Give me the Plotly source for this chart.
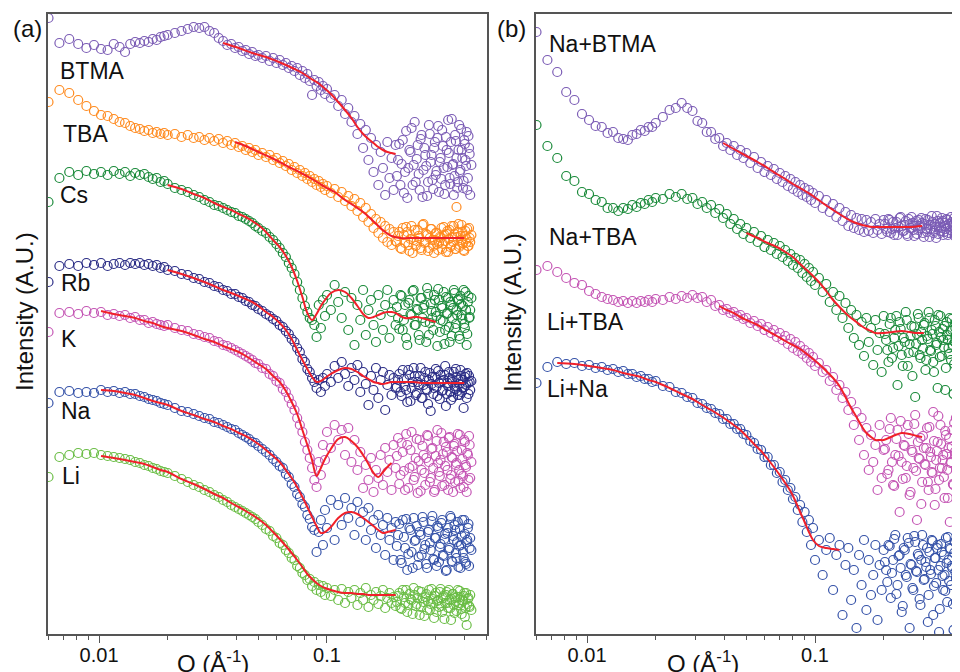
import plotly.graph_objects as go

# ---------------- data (Q in 1/Å, intensity in arbitrary stacked units) ----------------
q_grid = [
    0.0060, 0.0067, 0.0074, 0.0081, 0.0088, 0.0095, 0.0102, 0.0109, 0.0116, 0.0123, 0.0130,
    0.0137, 0.0144, 0.0151, 0.0158, 0.0165, 0.0172, 0.0179, 0.0186, 0.0193, 0.0200,
    0.0215, 0.0230, 0.0245, 0.0260, 0.0275, 0.0290, 0.0305, 0.0320, 0.0335, 0.0350,
    0.0365, 0.0380, 0.0395, 0.0410, 0.0425, 0.0440, 0.0455, 0.0470, 0.0485, 0.0500,
    0.052, 0.054, 0.056, 0.058, 0.060, 0.062, 0.064, 0.066, 0.068, 0.070, 0.072, 0.074, 0.076,
    0.078, 0.080, 0.082, 0.084, 0.086, 0.088, 0.090, 0.092, 0.094, 0.096, 0.098, 0.100,
    0.104, 0.108, 0.112, 0.116, 0.120, 0.124, 0.128, 0.132, 0.136, 0.140, 0.144, 0.148, 0.152,
    0.156, 0.160, 0.164, 0.168, 0.172, 0.176, 0.180, 0.184, 0.188, 0.192, 0.196, 0.200,
    0.205, 0.210, 0.215, 0.220, 0.225, 0.230, 0.235, 0.240, 0.245, 0.250, 0.255, 0.260,
    0.265, 0.270, 0.275, 0.280, 0.285, 0.290, 0.295, 0.300, 0.305, 0.310, 0.315, 0.320,
    0.325, 0.330, 0.335, 0.340, 0.345, 0.350, 0.355, 0.360, 0.365, 0.370, 0.375, 0.380,
    0.385, 0.390, 0.395, 0.400, 0.405, 0.410, 0.415, 0.420, 0.425, 0.430,
]
# additional high-Q samples (between the points above)
q_hi = [
    0.2025, 0.2075, 0.2125, 0.2175, 0.2225, 0.2275, 0.2325, 0.2375, 0.2425, 0.2475,
    0.2525, 0.2575, 0.2625, 0.2675, 0.2725, 0.2775, 0.2825, 0.2875, 0.2925, 0.2975,
    0.3025, 0.3075, 0.3125, 0.3175, 0.3225, 0.3275, 0.3325, 0.3375, 0.3425, 0.3475,
    0.3525, 0.3575, 0.3625, 0.3675, 0.3725, 0.3775, 0.3825, 0.3875, 0.3925, 0.3975,
    0.4025, 0.4075, 0.4125, 0.4175, 0.4225,
]

# panel (a)
i_btma = [
    616, 591, 595, 590, 586, 589, 585, 584, 590, 587, 582, 590, 592, 591, 593, 592, 595, 594, 597, 598, 599,
    601, 603, 605, 607, 606, 607, 603, 601, 596, 593, 589, 590, 586, 587, 583, 584, 580, 582, 578, 579,
    576, 578, 573, 576, 571, 574, 569, 571, 566, 568, 563, 566, 559, 563, 556, 560, 553, 539, 554, 548, 552, 544, 548, 540, 545,
    536, 539, 528, 534, 520, 526, 512, 518, 500, 510, 486, 504, 474, 496, 462, 489, 449, 482, 466, 439, 492, 456, 476, 444, 489,
    474, 449, 494, 462, 436, 484, 506, 469, 452, 489, 444, 499, 464, 479, 438, 509, 472, 454, 486, 459, 496, 442, 476,
    504, 466, 449, 484, 514, 456, 492, 469, 439, 499, 476, 452, 509, 464, 484, 446, 494, 474, 502, 456, 486, 439, 469,
]
i_btma_hi = [458, 490, 470, 441, 503, 466, 482, 449, 512, 475, 460, 495, 437, 486, 468, 452, 500, 479, 445, 492, 463,
             508, 472, 455, 488, 440, 497, 467, 481, 450, 515, 470, 458, 493, 446, 484, 462, 505, 476, 453, 490, 468,
             444, 498, 480]
i_tba = [
    532, 544, 541, 534, 528, 523, 519, 518, 515, 512, 511, 508, 506, 505, 503, 504, 501, 502, 500, 501, 499,
    500, 497, 499, 496, 497, 494, 496, 493, 495, 491, 493, 489, 491, 487, 488, 484, 486, 482, 484, 479,
    481, 477, 479, 474, 476, 471, 473, 468, 470, 464, 467, 461, 464, 458, 461, 455, 458, 452, 455, 449, 453, 447, 450, 444, 448,
    441, 445, 437, 442, 433, 438, 428, 435, 423, 431, 417, 426, 412, 420, 406, 415, 401, 412, 396, 408, 392, 405, 389, 402, 393,
    398, 386, 406, 391, 402, 383, 408, 394, 388, 404, 396, 384, 410, 392, 399, 386, 405, 394, 381, 401, 390, 391, 396,
    385, 407, 393, 400, 382, 404, 389, 397, 408, 385, 427, 402, 387, 398, 409, 391, 383, 403, 395, 388, 406, 392, 399,
]
i_tba_hi = [392, 402, 385, 399, 407, 389, 395, 381, 404, 393, 398, 386, 409, 391, 400, 383, 396, 405, 388, 394, 401,
            384, 397, 406, 390, 399, 382, 403, 395, 387, 408, 392, 400, 385, 397, 410, 389, 394, 402, 384, 398, 391,
            405, 388, 396]
i_cs = [
    432, 456, 462, 459, 463, 460, 462, 459, 463, 460, 462, 458, 461, 459, 460, 457, 455, 456, 452, 453, 450,
    446, 444, 442, 439, 437, 434, 432, 429, 428, 426, 424, 422, 421, 418, 417, 415, 413, 411, 408, 406,
    403, 401, 397, 394, 390, 386, 381, 377, 371, 366, 360, 352, 344, 336, 328, 322, 316, 314, 309, 297, 329, 306, 334, 318, 339,
    324, 349, 332, 316, 342, 304, 336, 289, 329, 314, 344, 299, 324, 334, 309, 292, 339, 319, 304, 329, 344, 296, 322, 334, 309,
    316, 339, 304, 329, 289, 334, 319, 344, 309, 324, 294, 336, 326, 312, 346, 299, 330, 316, 339, 322, 288, 334, 314,
    326, 342, 304, 320, 336, 292, 329, 316, 344, 306, 324, 334, 298, 338, 319, 328, 310, 342, 289, 332, 316, 324, 336,
]
i_cs_hi = [327, 305, 338, 314, 296, 331, 320, 343, 309, 325, 299, 336, 316, 329, 292, 340, 311, 323, 304, 334, 318,
           345, 302, 328, 313, 290, 337, 321, 307, 332, 298, 326, 341, 310, 319, 335, 295, 330, 315, 344, 306, 324,
           300, 338, 317]
i_rb = [
    352, 368, 370, 368, 371, 369, 371, 368, 370, 371, 369, 371, 370, 371, 369, 370, 368, 369, 366, 367, 364,
    363, 360, 359, 356, 355, 352, 351, 348, 347, 344, 343, 340, 340, 337, 336, 333, 332, 329, 328, 325,
    323, 320, 318, 315, 313, 309, 307, 303, 300, 295, 292, 286, 282, 275, 272, 265, 262, 256, 252, 246, 254, 242, 256, 248, 260,
    252, 268, 256, 272, 260, 248, 266, 254, 269, 242, 262, 250, 229, 258, 244, 266, 236, 254, 262, 224, 249, 259, 239, 256, 246,
    254, 242, 264, 248, 232, 259, 246, 266, 239, 252, 258, 236, 249, 262, 244, 254, 223, 257, 246, 265, 238, 251, 259,
    243, 254, 268, 240, 248, 256, 234, 252, 262, 245, 257, 239, 250, 264, 242, 254, 247, 260, 236, 251, 258, 244, 253,
]
i_rb_hi = [247, 260, 238, 255, 244, 264, 233, 252, 258, 241, 249, 266, 236, 256, 245, 230, 261, 250, 240, 257, 247,
           263, 235, 253, 244, 259, 228, 251, 262, 242, 255, 237, 248, 265, 243, 254, 239, 258, 246, 226, 257, 249,
           261, 240, 252]
i_k = [
    302, 321, 322, 320, 323, 321, 322, 319, 320, 318, 319, 316, 317, 314, 314, 311, 312, 310, 309, 308, 309,
    306, 304, 303, 300, 299, 297, 296, 293, 292, 289, 288, 286, 284, 282, 280, 278, 276, 274, 271, 270,
    266, 265, 260, 258, 253, 251, 245, 242, 236, 230, 224, 216, 209, 202, 192, 184, 176, 166, 154, 147, 172, 159, 189, 174, 202,
    186, 209, 194, 204, 179, 206, 172, 194, 164, 182, 146, 169, 154, 176, 142, 164, 156, 179, 149, 186, 162, 174, 144, 189, 166,
    196, 159, 182, 144, 189, 166, 202, 154, 176, 141, 194, 164, 179, 149, 199, 172, 156, 186, 142, 178, 204, 162, 174,
    148, 192, 168, 182, 144, 197, 159, 176, 188, 152, 171, 200, 164, 146, 184, 158, 194, 169, 142, 179, 198, 156, 172,
]
i_k_hi = [178, 150, 191, 163, 200, 146, 184, 168, 157, 195, 173, 143, 188, 161, 176, 198, 152, 185, 166, 144, 193,
          171, 158, 201, 180, 149, 187, 164, 196, 155, 177, 142, 190, 169, 183, 153, 199, 160, 175, 147, 192, 167,
          181, 154, 189]
i_na = [
    231, 242, 243, 241, 242, 241, 244, 242, 243, 241, 242, 240, 240, 238, 237, 235, 234, 233, 231, 230, 229,
    226, 223, 222, 220, 218, 216, 215, 212, 211, 209, 207, 205, 204, 201, 199, 197, 195, 192, 191, 188,
    185, 182, 179, 175, 172, 168, 166, 160, 157, 150, 147, 140, 137, 130, 127, 119, 115, 107, 104, 82, 102, 114, 89, 124, 106,
    134, 94, 129, 109, 136, 116, 126, 99, 132, 112, 122, 94, 126, 104, 114, 86, 119, 99, 109, 79, 116, 94, 106, 74, 112,
    99, 74, 114, 86, 64, 106, 82, 116, 94, 69, 102, 79, 112, 89, 66, 104, 84, 118, 74, 96, 108, 72, 90,
    114, 78, 100, 64, 106, 86, 116, 72, 94, 104, 76, 112, 88, 66, 98, 82, 114, 72, 92, 106, 68, 96, 84,
]
i_na_hi = [88, 110, 71, 97, 115, 80, 104, 66, 93, 108, 77, 99, 117, 85, 70, 102, 91, 113, 75, 96, 68,
           106, 87, 111, 79, 95, 63, 101, 84, 118, 73, 98, 109, 81, 92, 67, 105, 89, 114, 76, 100, 70,
           94, 110, 86]
i_li = [
    157, 177, 179, 181, 180, 181, 179, 178, 177, 176, 175, 174, 172, 171, 169, 168, 166, 165, 163, 162, 161,
    158, 155, 152, 149, 147, 144, 142, 139, 137, 134, 132, 129, 127, 125, 123, 121, 119, 117, 115, 112,
    109, 105, 103, 98, 96, 91, 89, 84, 81, 76, 74, 68, 66, 61, 59, 54, 55, 48, 52, 44, 49, 42, 48, 39, 46,
    38, 44, 34, 45, 31, 42, 36, 44, 29, 41, 34, 46, 27, 39, 34, 42, 30, 38, 44, 26, 36, 41, 31, 37, 28,
    38, 26, 44, 31, 22, 40, 34, 46, 28, 36, 19, 42, 32, 37, 24, 44, 30, 35, 16, 41, 33, 27, 45,
    22, 38, 31, 42, 26, 34, 14, 40, 29, 36, 23, 44, 31, 37, 20, 33, 41, 26, 9, 35, 28, 39, 24,
]
i_li_hi = [32, 41, 25, 37, 44, 29, 35, 20, 39, 30, 43, 27, 36, 18, 40, 33, 24, 45, 31, 38, 22,
           34, 42, 28, 36, 15, 39, 31, 44, 26, 35, 40, 21, 33, 37, 29, 43, 25, 34, 38, 17, 41,
           30, 36, 27]

# panel (b)
i_na_btma = [
    602, 574, 562, 542, 534, 520, 514, 508, 507, 501, 502, 496, 495, 494, 499, 500, 504, 503, 507, 507, 511,
    517, 524, 526, 531, 526, 523, 513, 511, 502, 502, 495, 496, 488, 491, 484, 488, 479, 484, 476, 481,
    471, 477, 466, 472, 462, 468, 459, 465, 455, 461, 452, 458, 448, 455, 445, 452, 442, 449, 439, 446, 437, 444, 434, 441, 431,
    438, 426, 434, 422, 430, 417, 426, 413, 422, 408, 419, 406, 416, 404, 415, 402, 414, 403, 412, 401, 415, 404, 410, 400, 414,
    405, 415, 401, 412, 406, 399, 416, 408, 403, 413, 398, 410, 417, 404, 408, 400, 414, 406, 411, 397, 415, 402, 409,
    405, 418, 401, 410, 396, 413, 407, 403, 416, 399, 411, 405, 414, 401, 408, 417, 403, 410, 398, 413, 406, 402, 412,
]
i_na_btma_hi = [410, 402, 414, 405, 399, 412, 407, 417, 403, 409, 400, 415, 406, 411, 398, 413, 404, 408, 416, 401,
                410, 405, 414, 397, 409, 412, 403, 407, 418, 400, 411, 406, 413, 402, 408, 415, 399, 410, 404, 412,
                406, 416, 401, 409, 405]
i_na_tba = [
    509, 488, 476, 458, 453, 442, 440, 434, 432, 426, 426, 423, 426, 425, 429, 427, 431, 430, 434, 432, 436,
    435, 440, 437, 440, 435, 436, 430, 432, 426, 429, 421, 425, 416, 420, 410, 415, 405, 410, 400, 406,
    396, 402, 392, 398, 387, 394, 384, 391, 380, 388, 377, 384, 373, 380, 369, 376, 366, 374, 361, 370, 357, 366, 353, 362, 349,
    356, 342, 350, 332, 342, 324, 338, 316, 331, 306, 324, 296, 319, 289, 312, 278, 316, 292, 306, 269, 314, 284, 301, 262, 318,
    294, 272, 316, 286, 304, 249, 312, 279, 296, 322, 268, 290, 308, 282, 237, 300, 316, 276, 294, 309, 264, 298, 322,
    284, 304, 272, 314, 289, 246, 302, 318, 278, 294, 308, 266, 299, 286, 316, 274, 304, 240, 292, 312, 282, 298, 270,
]
i_na_tba_hi = [300, 284, 310, 276, 296, 318, 288, 305, 268, 292, 314, 281, 298, 258, 307, 290, 320, 279, 302, 286,
               311, 274, 295, 316, 283, 300, 262, 308, 291, 319, 277, 297, 305, 287, 244, 312, 294, 280, 303, 315,
               289, 270, 306, 296, 284]
i_li_tba = [
    364, 368, 362, 356, 351, 349, 343, 340, 337, 335, 334, 332, 333, 331, 333, 331, 333, 332, 334, 332, 335,
    334, 337, 335, 338, 336, 339, 336, 337, 332, 334, 328, 329, 324, 325, 321, 322, 318, 319, 315, 316,
    311, 313, 308, 310, 304, 307, 301, 304, 297, 301, 294, 298, 290, 295, 286, 292, 283, 288, 280, 284, 276, 281, 272, 277, 268,
    271, 262, 264, 253, 257, 244, 249, 236, 242, 224, 232, 209, 222, 194, 216, 179, 206, 164, 199, 172, 189, 144, 209, 156, 184,
    194, 164, 216, 149, 179, 204, 122, 172, 189, 156, 209, 139, 184, 166, 219, 114, 176, 196, 152, 186, 169, 206, 144,
    182, 162, 222, 129, 174, 192, 154, 209, 166, 179, 136, 199, 164, 186, 112, 172, 204, 149, 182, 216, 159, 176, 142,
]
i_li_tba_hi = [185, 160, 205, 172, 148, 195, 178, 213, 155, 188, 168, 200, 142, 182, 210, 163, 192, 175, 130, 198,
               170, 186, 152, 207, 177, 161, 193, 145, 183, 218, 166, 190, 174, 157, 203, 180, 136, 196, 171, 187,
               150, 211, 179, 165, 194]
i_li_na = [
    251, 267, 272, 270, 271, 268, 269, 266, 267, 264, 265, 262, 263, 260, 260, 257, 258, 255, 255, 252, 253,
    248, 247, 242, 241, 237, 236, 231, 230, 226, 225, 221, 220, 215, 215, 210, 210, 205, 205, 200, 199,
    193, 191, 185, 184, 177, 177, 169, 169, 161, 162, 152, 154, 144, 146, 135, 137, 124, 129, 112, 122, 102, 114, 89, 106, 74,
    94, 59, 84, 96, 44, 79, 89, 19, 69, 86, 34, 64, 6, 79, 49, 94, 24, 74, 39, 59, 89, 14, 69, 44, 84,
    64, 89, 36, 74, 99, 49, 79, 22, 86, 59, 96, 6, 69, 44, 92, 62, 78, 29, 99, 54, 72, 86, 39,
    64, 94, 19, 76, 51, 89, 2, 68, 82, 44, 59, 96, 32, 74, 86, 49, 66, 4, 92, 56, 78, 38, 89,
]
i_li_na_hi = [72, 52, 88, 61, 95, 40, 78, 66, 28, 84, 57, 91, 70, 46, 98, 63, 80, 35, 74, 89,
              55, 67, 12, 82, 60, 93, 48, 76, 86, 64, 25, 90, 58, 79, 43, 71, 97, 53, 85, 68,
              30, 81, 62, 94, 50]

# fitted curves
fit_btma_q = [0.035, 0.041, 0.047, 0.054, 0.060, 0.066, 0.072, 0.078, 0.084, 0.090, 0.096, 0.104,
              0.112, 0.120, 0.128, 0.136, 0.144, 0.152, 0.160, 0.168, 0.176, 0.184, 0.192, 0.200]
fit_btma_i = [591, 586, 581, 577, 573, 569, 565, 561, 556, 552, 547, 540,
              532, 524, 516, 507, 500, 495, 491, 487, 484, 482, 481, 480]
fit_tba_q = [0.0395, 0.044, 0.050, 0.056, 0.062, 0.068, 0.074, 0.080, 0.086, 0.092, 0.098, 0.108, 0.120,
             0.132, 0.144, 0.156, 0.168, 0.180, 0.192, 0.210, 0.240, 0.280, 0.330, 0.380, 0.400]
fit_tba_i = [492, 488, 482, 477, 472, 467, 463, 459, 455, 451, 447, 442, 434,
             428, 422, 415, 408, 402, 398, 396, 396, 396, 396, 396, 396]
fit_cs_q = [0.020, 0.023, 0.026, 0.029, 0.032, 0.035, 0.038, 0.041, 0.044, 0.047, 0.050,
            0.054, 0.058, 0.062, 0.066, 0.070, 0.074, 0.078, 0.082, 0.086, 0.090, 0.094, 0.098,
            0.104, 0.112, 0.120, 0.128, 0.136, 0.144, 0.152, 0.160, 0.168, 0.176, 0.184, 0.192, 0.200,
            0.210, 0.220, 0.230, 0.240, 0.250, 0.260, 0.270, 0.280, 0.290, 0.300]
fit_cs_i = [449, 445, 440, 436, 431, 427, 424, 420, 417, 413, 409,
            402, 394, 387, 378, 367, 353, 337, 321, 314, 320, 328, 334,
            341, 344, 342, 336, 328, 320, 316, 317, 319, 321, 322, 322, 321,
            318, 316, 316, 317, 317, 316, 315, 314, 313, 312]
fit_rb_q = [0.020, 0.023, 0.026, 0.029, 0.032, 0.035, 0.038, 0.041, 0.044, 0.047, 0.050,
            0.054, 0.058, 0.062, 0.066, 0.070, 0.074, 0.078, 0.082, 0.086, 0.090, 0.094, 0.098,
            0.104, 0.112, 0.120, 0.128, 0.136, 0.144, 0.152, 0.160, 0.168, 0.176, 0.184, 0.192, 0.200,
            0.220, 0.240, 0.260, 0.280, 0.300, 0.330, 0.360, 0.390, 0.400]
fit_rb_i = [364, 360, 356, 352, 348, 344, 341, 338, 335, 332, 328,
            322, 317, 311, 304, 295, 284, 274, 265, 257, 252, 253, 256,
            260, 264, 266, 265, 262, 258, 255, 252, 251, 250, 251, 252, 252,
            252, 252, 251, 251, 251, 251, 251, 251, 251]
fit_k_q = [0.0102, 0.0116, 0.0130, 0.0144, 0.0158, 0.0172, 0.0186, 0.0200,
           0.023, 0.026, 0.029, 0.032, 0.035, 0.038, 0.041, 0.044, 0.047, 0.050,
           0.054, 0.058, 0.062, 0.066, 0.070, 0.074, 0.078, 0.082, 0.086, 0.090, 0.094, 0.098,
           0.104, 0.112, 0.120, 0.128, 0.136, 0.144, 0.152, 0.160, 0.168, 0.176, 0.184, 0.192]
fit_k_i = [323, 320, 318, 316, 313, 311, 308, 306,
           303, 299, 295, 292, 288, 285, 282, 278, 274, 270,
           265, 258, 252, 243, 232, 220, 204, 189, 174, 158, 166, 175,
           185, 195, 197, 193, 187, 179, 170, 161, 157, 162, 167, 171]
fit_na_q = [0.0102, 0.0116, 0.0130, 0.0144, 0.0158, 0.0172, 0.0186, 0.0200,
            0.023, 0.026, 0.029, 0.032, 0.035, 0.038, 0.041, 0.044, 0.047, 0.050,
            0.054, 0.058, 0.062, 0.066, 0.070, 0.074, 0.078, 0.082, 0.086, 0.090, 0.094, 0.098,
            0.104, 0.112, 0.120, 0.128, 0.136, 0.144, 0.152, 0.160, 0.168, 0.176, 0.184, 0.192, 0.200]
fit_na_i = [244, 243, 241, 239, 236, 233, 231, 229,
            223, 219, 215, 212, 208, 205, 201, 198, 194, 190,
            184, 178, 172, 164, 156, 147, 137, 127, 117, 108, 101, 102,
            107, 116, 121, 122, 120, 116, 112, 108, 104, 101, 102, 103, 104]
fit_li_q = list(fit_na_q)
fit_li_i = [178, 176, 174, 172, 170, 167, 164, 162,
            155, 150, 145, 140, 136, 131, 127, 123, 119, 115,
            109, 102, 95, 88, 81, 74, 67, 60, 55, 51, 48, 46,
            44, 42, 41, 41, 40, 40, 39, 39, 39, 39, 39, 39, 39]
fit_na_btma_q = [0.0395, 0.044, 0.050, 0.056, 0.062, 0.068, 0.074, 0.080, 0.086, 0.092, 0.098,
                 0.108, 0.120, 0.132, 0.144, 0.156, 0.168, 0.180, 0.200, 0.230, 0.260, 0.295]
fit_na_btma_i = [491, 485, 478, 472, 466, 460, 455, 450, 446, 442, 438,
                 431, 424, 418, 413, 410, 408, 407, 407, 407, 407, 408]
fit_na_tba_q = [0.050, 0.056, 0.062, 0.068, 0.074, 0.080, 0.086, 0.092, 0.098, 0.104, 0.112, 0.120, 0.128,
                0.136, 0.144, 0.152, 0.160, 0.168, 0.176, 0.184, 0.200, 0.220, 0.240, 0.260, 0.280, 0.300]
fit_na_tba_i = [401, 396, 391, 387, 382, 377, 370, 364, 358, 352, 343, 334, 327,
                321, 316, 312, 308, 305, 303, 301, 301, 302, 303, 302, 301, 301]
fit_li_tba_q = [0.038, 0.041, 0.044, 0.047, 0.050, 0.056, 0.062, 0.068, 0.074, 0.080, 0.086, 0.092, 0.098,
                0.104, 0.112, 0.120, 0.128, 0.136, 0.144, 0.152, 0.160, 0.168, 0.176, 0.184, 0.192, 0.200,
                0.220, 0.240, 0.260, 0.280, 0.295]
fit_li_tba_i = [328, 324, 321, 317, 314, 309, 303, 298, 293, 289, 285, 280, 275,
                270, 263, 256, 248, 237, 226, 217, 208, 201, 197, 194, 194, 194,
                198, 201, 200, 198, 197]
fit_li_na_q = [0.0074, 0.0088, 0.0102, 0.0116, 0.0130, 0.0144, 0.0158, 0.0172, 0.0186, 0.0200,
               0.023, 0.026, 0.029, 0.032, 0.035, 0.038, 0.041, 0.044, 0.047, 0.050,
               0.054, 0.058, 0.062, 0.066, 0.070, 0.074, 0.078, 0.082, 0.086, 0.090, 0.094, 0.098,
               0.104, 0.112, 0.120, 0.128]
fit_li_na_i = [271, 270, 268, 266, 264, 261, 259, 257, 254, 252,
               246, 240, 235, 229, 224, 219, 214, 209, 204, 198,
               190, 183, 175, 167, 159, 151, 143, 133, 122, 112, 102, 94,
               88, 86, 85, 84]

labels_a = ["BTMA", "TBA", "Cs", "Rb", "K", "Na", "Li"]
labels_b = ["Na+BTMA", "Na+TBA", "Li+TBA", "Li+Na"]
tick_vals = [0.01, 0.1]
tick_text = ["0.01", "0.1"]

# ---------------- styles ----------------
PURPLE, ORANGE, GREEN = "#7b5cb5", "#ff8a1e", "#1a8a3a"
NAVY, MAGENTA, BLUE, LGREEN = "#2b2d86", "#c455b4", "#3552a8", "#6abd45"
RED = "#f0202a"
FONT = "Arial, Liberation Sans, sans-serif"

series_a = [
    (i_btma, i_btma_hi, PURPLE, fit_btma_q, fit_btma_i),
    (i_tba, i_tba_hi, ORANGE, fit_tba_q, fit_tba_i),
    (i_cs, i_cs_hi, GREEN, fit_cs_q, fit_cs_i),
    (i_rb, i_rb_hi, NAVY, fit_rb_q, fit_rb_i),
    (i_k, i_k_hi, MAGENTA, fit_k_q, fit_k_i),
    (i_na, i_na_hi, BLUE, fit_na_q, fit_na_i),
    (i_li, i_li_hi, LGREEN, fit_li_q, fit_li_i),
]
series_b = [
    (i_na_btma, i_na_btma_hi, PURPLE, fit_na_btma_q, fit_na_btma_i),
    (i_na_tba, i_na_tba_hi, GREEN, fit_na_tba_q, fit_na_tba_i),
    (i_li_tba, i_li_tba_hi, MAGENTA, fit_li_tba_q, fit_li_tba_i),
    (i_li_na, i_li_na_hi, BLUE, fit_li_na_q, fit_li_na_i),
]

fig = go.Figure()

def add_panel(series, names, xa, ya):
    for (vals, hi, col, fq, fi), name in zip(series, names):
        fig.add_trace(go.Scatter(
            x=q_grid + q_hi, y=vals + hi, mode="markers", name=name, xaxis=xa, yaxis=ya,
            marker=dict(symbol="circle-open", size=9, color=col, line=dict(width=1.2, color=col)),
            showlegend=False, hoverinfo="skip"))
    for (vals, hi, col, fq, fi), name in zip(series, names):
        fig.add_trace(go.Scatter(
            x=fq, y=fi, mode="lines", name=name + " fit", xaxis=xa, yaxis=ya,
            line=dict(color=RED, width=2, shape="spline"),
            showlegend=False, hoverinfo="skip"))

add_panel(series_a, labels_a, "x", "y")
add_panel(series_b, labels_b, "x2", "y2")

minor_vals = [0.006, 0.007, 0.008, 0.009, 0.02, 0.03, 0.04, 0.05, 0.06, 0.07, 0.08, 0.09,
              0.2, 0.3, 0.4, 0.5]
AX = "#555555"

# The page places the figure 8 px in from the top-left corner of the window,
# so all layout positions below are given in window pixels minus that offset.
OFF = 8
W, H = 960, 672

def px(x):
    return (x - OFF) / W

def py(y):
    return (H - (y - OFF)) / H

def xaxis_cfg(domain, rng):
    return dict(domain=domain, type="log", range=rng, showline=True, linecolor=AX, linewidth=1.5,
                mirror=True, ticks="outside", ticklen=7, tickwidth=1.2, tickcolor=AX,
                tickvals=tick_vals, ticktext=tick_text, showgrid=False, zeroline=False,
                ticklabelstandoff=-5,
                tickfont=dict(family=FONT, size=20, color="#111"),
                minor=dict(tickvals=minor_vals, ticks="outside", ticklen=4, tickwidth=1,
                           tickcolor=AX, showgrid=False))

ydom = [py(634), py(14)]
fig.update_layout(
    width=W, height=H, margin=dict(l=0, r=0, t=0, b=0),
    paper_bgcolor="white", plot_bgcolor="white",
    font=dict(family=FONT, color="#111"),
    xaxis=xaxis_cfg([px(48), px(487)], [-2.224, -0.298]),
    xaxis2=xaxis_cfg([px(536), 1.0], [-2.224, -0.329]),
    yaxis=dict(domain=ydom, range=[0, 620], showline=True, linecolor=AX, linewidth=1.5, mirror=True,
               showticklabels=False, ticks="", showgrid=False, zeroline=False, anchor="x"),
    yaxis2=dict(domain=ydom, range=[0, 620], showline=True, linecolor=AX, linewidth=1.5, mirror=False,
                showticklabels=False, ticks="", showgrid=False, zeroline=False, anchor="x2"),
)
fig.update_layout(xaxis=dict(anchor="y"), xaxis2=dict(anchor="y2"))

ann = []
label_pos_a = [(58, 71), (61, 134), (58, 195), (59, 283), (59, 339), (59, 411), (60, 476)]
label_pos_b = [(547, 44), (547, 237), (545, 322), (545, 389)]
for name, (x, y) in zip(labels_a + labels_b, label_pos_a + label_pos_b):
    ann.append(dict(text=name, x=px(x), y=py(y), xref="paper", yref="paper", xanchor="left",
                    yanchor="middle", showarrow=False, font=dict(family=FONT, size=23, color="#111")))
for t, x in [("(a)", 27), ("(b)", 511)]:
    ann.append(dict(text=t, x=px(x), y=py(28), xref="paper", yref="paper", xanchor="center",
                    yanchor="middle", showarrow=False, font=dict(family=FONT, size=24, color="#111")))
for x in [25, 513]:
    ann.append(dict(text="Intensity (A.U.)", x=px(x), y=py(312), xref="paper", yref="paper",
                    xanchor="center", yanchor="middle", textangle=-90, showarrow=False,
                    font=dict(family=FONT, size=24, color="#111")))
for x in [213, 703]:
    ann.append(dict(text="Q (Å<sup>-1</sup>)", x=px(x), y=py(662), xref="paper", yref="paper",
                    xanchor="center", yanchor="middle", showarrow=False,
                    font=dict(family=FONT, size=24, color="#111")))
fig.update_layout(annotations=ann)

fig.write_html("out.html")
